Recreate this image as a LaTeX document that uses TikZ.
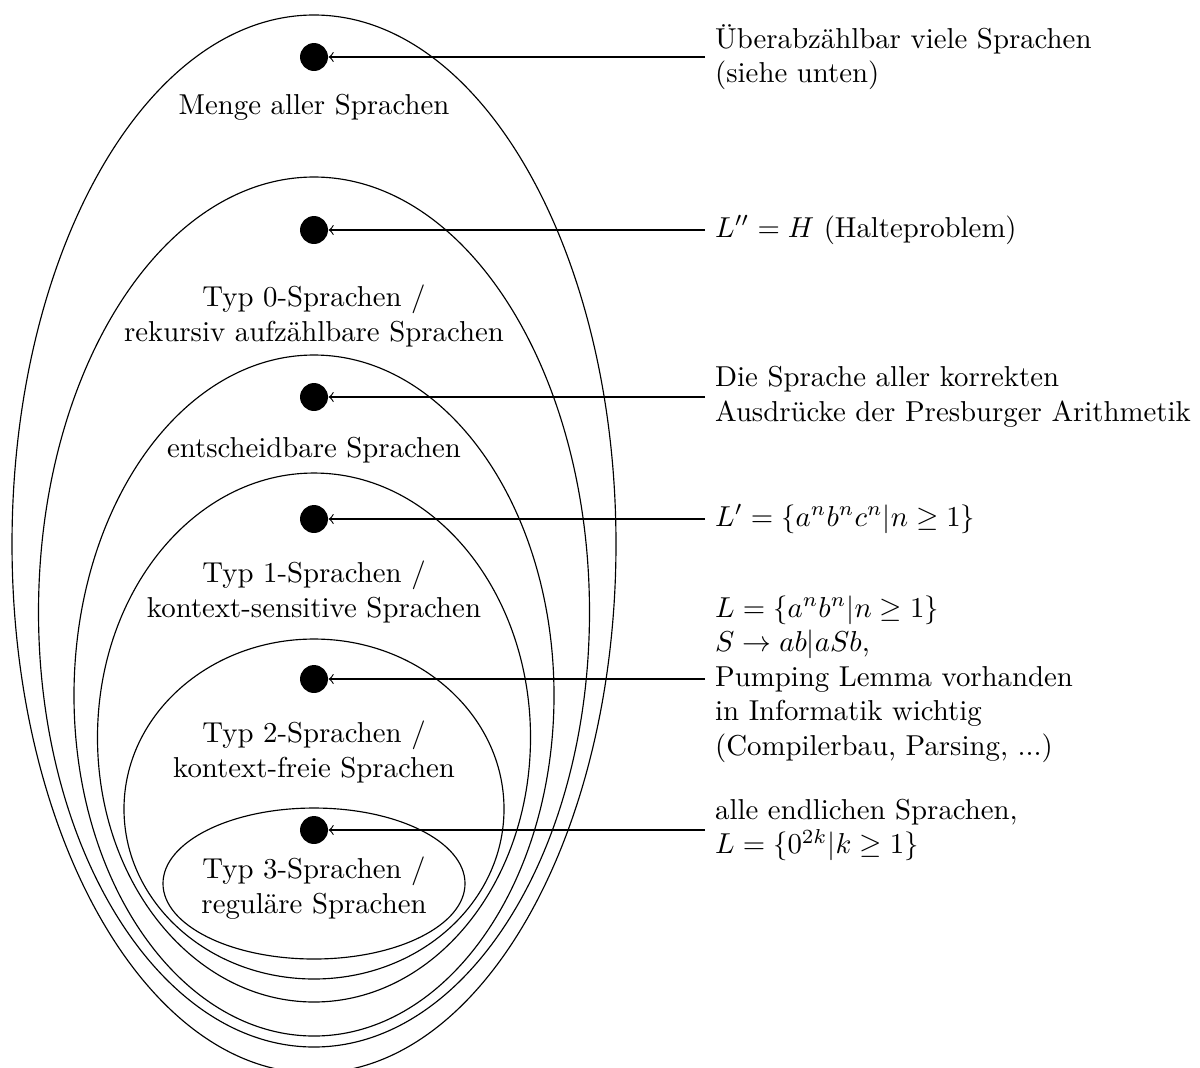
\documentclass[tikz,border=0pt]{standalone}
\usepackage{amssymb}
\begin{document}
\begin{tikzpicture}[x=0.3472pt, y=-0.3472pt,
  dot/.style={circle, fill=black, inner sep=0pt, minimum size=9.7pt},
  lbl/.style={align=center},
  note/.style={anchor=west, align=left},
  pointer/.style={->}]
\useasboundingbox (0,0) rectangle (1200,1067);

% nested language classes
\draw (314,544) ellipse [x radius=104.85pt, y radius=183.67pt];
\draw (314,612) ellipse [x radius=95.65pt, y radius=151.03pt];
\draw (314,695.5) ellipse [x radius=83.33pt, y radius=118.22pt];
\draw (314,737.5) ellipse [x radius=75.17pt, y radius=91.83pt];
\draw (314,809) ellipse [x radius=65.97pt, y radius=59.02pt];
\draw (314,883.5) ellipse [x radius=52.43pt, y radius=26.21pt];

% representatives
\node[dot] (d0) at (314,57) {};
\node[dot] (d1) at (314,230) {};
\node[dot] (d2) at (314,397) {};
\node[dot] (d3) at (314,519) {};
\node[dot] (d4) at (314,679) {};
\node[dot] (d5) at (314,830) {};

% class names
\node[lbl] (c0) at (314,107) {Menge aller Sprachen};
\node[lbl] (c1) at (314,316) {Typ 0-Sprachen /\\rekursiv aufz\"ahlbare Sprachen};
\node[lbl] (c2) at (314,450) {entscheidbare Sprachen};
\node[lbl] (c3) at (314,592) {Typ 1-Sprachen /\\kontext-sensitive Sprachen};
\node[lbl] (c4) at (314,752) {Typ 2-Sprachen /\\kontext-freie Sprachen};
\node[lbl] (c5) at (314,888) {Typ 3-Sprachen /\\regul\"are Sprachen};

% annotations
\node[note] (n0) at (705,57) {\"Uberabz\"ahlbar viele Sprachen\\(siehe unten)};
\node[note] (n1) at (705,230) {$L'' = H$ (Halteproblem)};
\node[note] (n2) at (705,397) {Die Sprache aller korrekten\\Ausdr\"ucke der Presburger Arithmetik};
\node[note] (n3) at (705,519) {$L' = \{a^nb^nc^n | n \geq 1\}$};
\node[note] (n4) at (705,679) {$L = \{a^nb^n | n \geq 1\}$\\$S \rightarrow ab | aSb$,\\Pumping Lemma vorhanden\\in Informatik wichtig\\(Compilerbau, Parsing, ...)};
\node[note] (n5) at (705,830) {alle endlichen Sprachen,\\$L = \{0^{2k} | k \geq 1\}$};

\foreach \i in {0,...,5}
  \draw[pointer] (n\i.west) -- (d\i.east);
\end{tikzpicture}
\end{document}
